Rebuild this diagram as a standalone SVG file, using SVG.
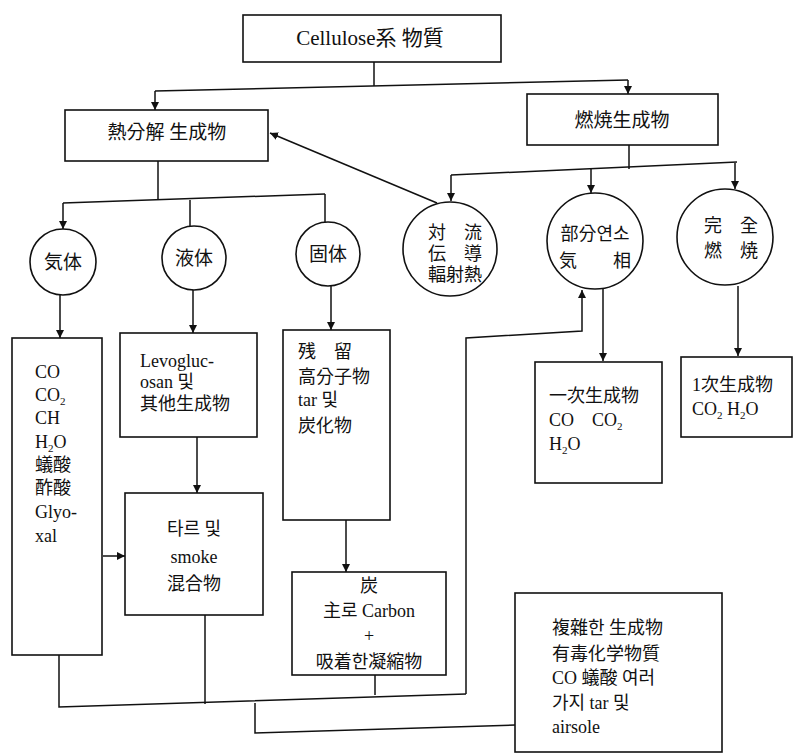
<svg xmlns="http://www.w3.org/2000/svg" width="797" height="756" viewBox="0 0 797 756">
<defs>
<style>
.box{fill:#fff;stroke:#111;stroke-width:1.6}
.ln{fill:none;stroke:#111;stroke-width:1.5}
.t{font-family:"Liberation Serif","Noto Sans CJK KR","Noto Sans CJK JP",serif;font-size:18px;fill:#111}
.s{font-size:11px}
</style>
<marker id="arr" viewBox="0 0 8 8" refX="8" refY="4" markerWidth="8" markerHeight="8" markerUnits="userSpaceOnUse" orient="auto">
<path d="M0,0 L8,4 L0,8 z" fill="#111"/>
</marker>
</defs>
<rect width="797" height="756" fill="#fff"/>
<g id="connectors">
<path class="ln" d="M374,62 V86"/>
<path class="ln" d="M155,91 L628,80"/>
<path class="ln" d="M155,91 V110" marker-end="url(#arr)"/>
<path class="ln" d="M628,80 V94" marker-end="url(#arr)"/>
<path class="ln" d="M437,203 L270,133" marker-end="url(#arr)"/>
<path class="ln" d="M158,161 V199"/>
<path class="ln" d="M63,203 L325,194"/>
<path class="ln" d="M63,203 V229" marker-end="url(#arr)"/>
<path class="ln" d="M190,200 V226"/>
<path class="ln" d="M325,194 V222"/>
<path class="ln" d="M629,145 V169"/>
<path class="ln" d="M451,175 L737,162"/>
<path class="ln" d="M451,175 V201" marker-end="url(#arr)"/>
<path class="ln" d="M591,169 V193" marker-end="url(#arr)"/>
<path class="ln" d="M735,163 V189" marker-end="url(#arr)"/>
<path class="ln" d="M60,294 V338" marker-end="url(#arr)"/>
<path class="ln" d="M193,290 V333" marker-end="url(#arr)"/>
<path class="ln" d="M331,286 V330" marker-end="url(#arr)"/>
<path class="ln" d="M197,437 V493" marker-end="url(#arr)"/>
<path class="ln" d="M103,556 H125" marker-end="url(#arr)"/>
<path class="ln" d="M346,520 V572" marker-end="url(#arr)"/>
<path class="ln" d="M603,289 V361" marker-end="url(#arr)"/>
<path class="ln" d="M738,286 V356" marker-end="url(#arr)"/>
<path class="ln" d="M59,655 V707 L466,694"/>
<path class="ln" d="M205,615 V704"/>
<path class="ln" d="M375,675 V695"/>
<path class="ln" d="M466,694 V338 L582,331 V290" marker-end="url(#arr)"/>
<path class="ln" d="M255,703 V733 L515,725"/>
</g>
<g id="cellulose">
<rect class="box" x="243" y="15" width="258" height="47"/>
<text class="t" x="370" y="45" text-anchor="middle" style="font-size:21px">Cellulose系 物質</text>
</g>
<g id="pyrolysis">
<rect class="box" x="65" y="110" width="203" height="51"/>
<text class="t" x="167" y="139" text-anchor="middle" style="font-size:19px">熱分解 生成物</text>
</g>
<g id="combustion">
<rect class="box" x="527" y="94" width="191" height="51"/>
<text class="t" x="622" y="127" text-anchor="middle" style="font-size:19px">燃焼生成物</text>
</g>
<g id="gas">
<circle class="box" cx="63" cy="262" r="33"/>
<text class="t" x="63" y="269" text-anchor="middle" style="font-size:19px">気体</text>
</g>
<g id="liquid">
<circle class="box" cx="194" cy="258" r="32"/>
<text class="t" x="194" y="265" text-anchor="middle" style="font-size:19px">液体</text>
</g>
<g id="solid">
<circle class="box" cx="328" cy="254" r="32"/>
<text class="t" x="328" y="261" text-anchor="middle" style="font-size:19px">固体</text>
</g>
<g id="heat">
<circle class="box" cx="450" cy="249" r="47"/>
<text class="t" x="455" y="239" text-anchor="middle">対　流</text>
<text class="t" x="455" y="260" text-anchor="middle">伝　導</text>
<text class="t" x="455" y="281" text-anchor="middle">輻射熱</text>
</g>
<g id="partial">
<circle class="box" cx="595" cy="241" r="48"/>
<text class="t" x="595" y="240" text-anchor="middle">部分연소</text>
<text class="t" x="595" y="267" text-anchor="middle">気　　相</text>
</g>
<g id="complete">
<circle class="box" cx="725" cy="237" r="48"/>
<text class="t" x="731" y="232" text-anchor="middle">完　全</text>
<text class="t" x="731" y="257" text-anchor="middle">燃　焼</text>
</g>
<g id="gasbox">
<rect class="box" x="12" y="338" width="90" height="317"/>
<text class="t" x="35" y="378">CO</text>
<text class="t" x="35" y="401">CO<tspan class="s" dy="4">2</tspan></text>
<text class="t" x="35" y="424">CH</text>
<text class="t" x="35" y="448">H<tspan class="s" dy="4">2</tspan><tspan dy="-4">O</tspan></text>
<text class="t" x="35" y="471">蟻酸</text>
<text class="t" x="35" y="494">酢酸</text>
<text class="t" x="35" y="518">Glyo-</text>
<text class="t" x="35" y="542">xal</text>
</g>
<g id="levo">
<rect class="box" x="120" y="333" width="137" height="104"/>
<text class="t" x="140" y="367">Levogluc-</text>
<text class="t" x="140" y="388">osan 및</text>
<text class="t" x="140" y="410">其他生成物</text>
</g>
<g id="tarsmoke">
<rect class="box" x="125" y="493" width="138" height="122"/>
<text class="t" x="194" y="535" text-anchor="middle">타르 및</text>
<text class="t" x="194" y="563" text-anchor="middle">smoke</text>
<text class="t" x="194" y="590" text-anchor="middle">混合物</text>
</g>
<g id="char">
<rect class="box" x="283" y="330" width="107" height="190"/>
<text class="t" x="298" y="358">残　留</text>
<text class="t" x="298" y="383">高分子物</text>
<text class="t" x="298" y="406">tar 및</text>
<text class="t" x="298" y="432">炭化物</text>
</g>
<g id="carbon">
<rect class="box" x="292" y="572" width="154" height="103"/>
<text class="t" x="369" y="592" text-anchor="middle">炭</text>
<text class="t" x="369" y="617" text-anchor="middle">主로 Carbon</text>
<text class="t" x="369" y="642" text-anchor="middle">+</text>
<text class="t" x="369" y="668" text-anchor="middle">吸着한凝縮物</text>
</g>
<g id="primary">
<rect class="box" x="535" y="362" width="127" height="121"/>
<text class="t" x="549" y="402">一次生成物</text>
<text class="t" x="549" y="426">CO　CO<tspan class="s" dy="4">2</tspan></text>
<text class="t" x="549" y="450">H<tspan class="s" dy="4">2</tspan><tspan dy="-4">O</tspan></text>
</g>
<g id="secondary">
<rect class="box" x="681" y="357" width="111" height="80"/>
<text class="t" x="692" y="391">1次生成物</text>
<text class="t" x="692" y="415">CO<tspan class="s" dy="4">2</tspan><tspan dy="-4"> H</tspan><tspan class="s" dy="4">2</tspan><tspan dy="-4">O</tspan></text>
</g>
<g id="final">
<rect class="box" x="515" y="593" width="207" height="159"/>
<text class="t" x="552" y="634">複雜한 生成物</text>
<text class="t" x="552" y="660">有毒化学物質</text>
<text class="t" x="552" y="684">CO 蟻酸 여러</text>
<text class="t" x="552" y="709">가지 tar 및</text>
<text class="t" x="552" y="733">airsole</text>
</g>
</svg>
